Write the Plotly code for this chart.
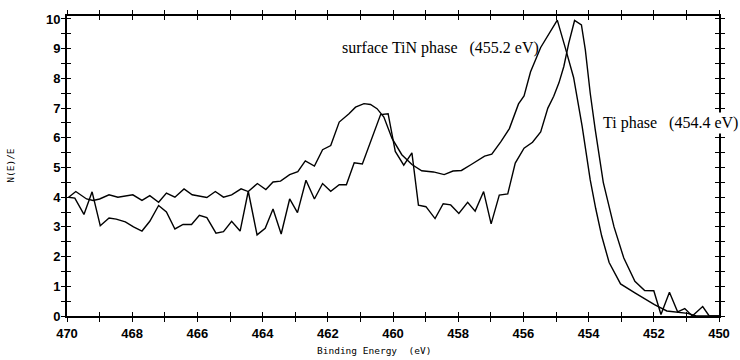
import plotly.graph_objects as go

# XPS Ti 2p region: surface TiN phase and Ti metal phase
energy_tin = [469.95, 469.73, 469.40, 469.20, 469.00, 468.71, 468.44, 467.98, 467.70, 467.46,
              467.19, 466.95, 466.69, 466.41, 466.16, 465.96, 465.71, 465.45, 465.20, 464.95,
              464.66, 464.44, 464.16, 463.90, 463.68, 463.45, 463.17, 462.92, 462.69, 462.41,
              462.16, 461.91, 461.65, 461.35, 461.15, 460.89, 460.69, 460.49, 460.28, 460.03,
              459.73, 459.42, 459.12, 458.76, 458.43, 458.16, 457.90, 457.60, 457.19, 456.97,
              456.69, 456.43, 456.15, 455.98, 455.78, 455.47, 455.22, 454.96, 454.71, 454.46,
              454.20, 454.10, 453.95, 453.78, 453.60, 453.37, 453.02, 452.58, 452.28, 451.98,
              451.60, 451.27, 450.96, 450.70, 450.00]
counts_tin = [4.00, 4.19, 3.94, 3.89, 3.94, 4.08, 4.00, 4.08, 3.89, 4.05,
              3.83, 4.14, 4.00, 4.28, 4.08, 4.05, 3.99, 4.19, 4.00, 4.08,
              4.28, 4.19, 4.46, 4.26, 4.51, 4.54, 4.76, 4.86, 5.22, 5.05,
              5.60, 5.74, 6.53, 6.81, 7.03, 7.15, 7.12, 6.98, 6.70, 5.98,
              5.43, 5.10, 4.89, 4.85, 4.76, 4.88, 4.90, 5.10, 5.38, 5.45,
              5.87, 6.31, 7.14, 7.41, 8.22, 9.04, 9.48, 9.96, 9.01, 8.03,
              6.40, 5.60, 4.58, 3.61, 2.70, 1.80, 1.08, 0.78, 0.59, 0.38,
              0.17, 0.12, 0.09, 0.00, 0.00]

energy_ti = [469.95, 469.76, 469.48, 469.23, 468.98, 468.71, 468.49, 468.21, 467.96, 467.70,
             467.46, 467.19, 466.95, 466.69, 466.44, 466.18, 465.94, 465.71, 465.43, 465.20,
             464.95, 464.69, 464.44, 464.17, 463.92, 463.68, 463.43, 463.17, 462.93, 462.67,
             462.41, 462.16, 461.91, 461.65, 461.43, 461.19, 460.94, 460.69, 460.38, 460.15,
             459.93, 459.67, 459.42, 459.22, 458.99, 458.71, 458.46, 458.23, 457.98, 457.71,
             457.48, 457.22, 456.99, 456.74, 456.48, 456.25, 455.98, 455.72, 455.47, 455.25,
             455.07, 454.91, 454.76, 454.61, 454.43, 454.22, 454.10, 453.95, 453.80, 453.55,
             453.22, 452.92, 452.58, 452.28, 452.00, 451.78, 451.52, 451.27, 451.05, 450.82,
             450.50, 450.30, 450.00]
counts_ti = [4.00, 3.97, 3.42, 4.18, 3.04, 3.30, 3.26, 3.17, 3.00, 2.86,
             3.19, 3.72, 3.50, 2.93, 3.08, 3.08, 3.39, 3.31, 2.79, 2.84,
             3.19, 2.86, 4.20, 2.73, 2.95, 3.60, 2.76, 3.94, 3.48, 4.57,
             3.94, 4.46, 4.20, 4.42, 4.42, 5.16, 5.12, 5.87, 6.78, 6.81,
             5.54, 5.08, 5.49, 3.73, 3.68, 3.28, 3.78, 3.74, 3.45, 3.83,
             3.53, 4.19, 3.10, 4.07, 4.11, 5.15, 5.65, 5.85, 6.20, 7.00,
             7.40, 7.85, 8.40, 9.18, 9.95, 9.80, 8.96, 7.50, 6.30, 4.50,
             3.00, 1.95, 1.17, 0.86, 0.85, 0.05, 0.80, 0.14, 0.25, 0.00,
             0.32, 0.00, 0.00]

x_ticks = list(range(450, 471))
x_labels = [str(v) if v % 2 == 0 else "" for v in x_ticks]
y_ticks = [v / 2 for v in range(0, 21)]
y_labels = [str(int(v)) if v == int(v) else "" for v in y_ticks]

x_range = [470, 450]
y_range = [0, 10.1]

fig = go.Figure()
line_style = dict(color="black", width=1.4)
fig.add_trace(go.Scatter(x=energy_tin, y=counts_tin, mode="lines", line=line_style,
                         showlegend=False))
fig.add_trace(go.Scatter(x=energy_ti, y=counts_ti, mode="lines", line=line_style,
                         showlegend=False))

tick_font = dict(family="Liberation Sans", size=13, color="black", weight="bold")
title_font = dict(family="DejaVu Sans Mono", size=9.5, color="black")

axis_common = dict(showgrid=False, zeroline=False, showline=True, linecolor="black",
                   linewidth=2, ticks="outside", ticklen=4, tickwidth=1.2,
                   tickcolor="black", mirror="ticks")

fig.update_layout(
    width=740, height=360,
    margin=dict(l=67, r=15, t=10, b=44),
    paper_bgcolor="white", plot_bgcolor="white",
    xaxis=dict(range=x_range, tickvals=x_ticks, ticktext=x_labels, tickfont=tick_font,
               ticklabelstandoff=0, **axis_common),
    yaxis=dict(range=y_range, tickvals=y_ticks, ticktext=y_labels, tickfont=tick_font,
               ticklabelstandoff=-2, **axis_common),
    # second pair of axes supplies the inward half of each crossing tick
    xaxis2=dict(range=x_range, overlaying="x", tickvals=x_ticks, showticklabels=False,
                showgrid=False, zeroline=False, showline=False, ticks="inside",
                ticklen=4, tickwidth=1.2, tickcolor="black", mirror="ticks"),
    yaxis2=dict(range=y_range, overlaying="y", tickvals=y_ticks, showticklabels=False,
                showgrid=False, zeroline=False, showline=False, ticks="inside",
                ticklen=4, tickwidth=1.2, tickcolor="black", mirror="ticks"),
)
fig.add_trace(go.Scatter(x=[None], y=[None], xaxis="x2", yaxis="y2", showlegend=False))

# axis titles, placed relative to the plotting area
fig.add_annotation(x=0.471, y=-0.114, xref="paper", yref="paper",
                   text="Binding Energy&nbsp;&nbsp;(eV)", showarrow=False, font=title_font,
                   xanchor="center", yanchor="middle")
fig.add_annotation(x=-0.088, y=0.503, xref="paper", yref="paper",
                   text="N(E)/E", textangle=-90, showarrow=False, font=title_font,
                   xanchor="center", yanchor="middle")

label_font = dict(family="Liberation Serif", size=16, color="black")
fig.add_annotation(x=458.54, y=9.03, xref="x", yref="y",
                   text="surface TiN phase&nbsp;&nbsp;&nbsp;(455.2 eV)",
                   showarrow=False, font=label_font)
fig.add_annotation(x=451.49, y=6.5, xref="x", yref="y",
                   text="Ti phase&nbsp;&nbsp;&nbsp;(454.4 eV)",
                   showarrow=False, font=label_font, bgcolor="white")

fig.write_html("out.html")
